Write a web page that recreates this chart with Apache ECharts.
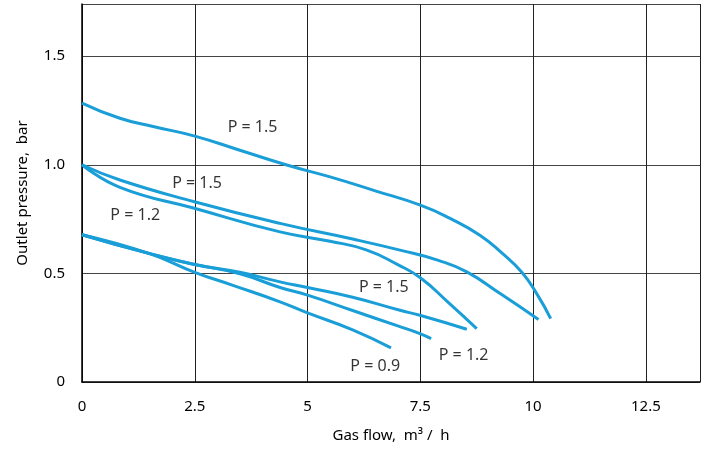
<!DOCTYPE html>
<html>
<head>
<meta charset="utf-8">
<script src="https://cdn.jsdelivr.net/npm/echarts@6/dist/echarts.min.js"></script>
<style>
  html, body { margin: 0; padding: 0; background: #fff; }
  #chart { width: 707px; height: 454px; }
</style>
</head>
<body>
<div id="chart"></div>
<script>
// curves: [gas flow m3/h, outlet pressure bar]
const curveA = [[0, 1.284], [0.84, 1.214], [1.6, 1.175], [2.5, 1.132], [3.5, 1.067], [4.54, 0.999],
  [5.5, 0.944], [6.5, 0.88], [7.5, 0.814], [8.16, 0.753], [8.82, 0.676], [9.3, 0.595],
  [9.75, 0.505], [10.1, 0.40], [10.39, 0.292]]
const curveB = [[0, 1.0], [0.84, 0.93], [2.49, 0.83], [4.39, 0.73], [6.0, 0.658], [7.05, 0.607],
  [7.9, 0.56], [8.53, 0.507], [9.27, 0.407], [10.12, 0.288]]
const curveC = [[0, 1.0], [0.84, 0.896], [2.49, 0.80], [4.39, 0.691], [5.5, 0.648], [6.3, 0.608],
  [7.0, 0.54], [7.5, 0.48], [8.1, 0.37], [8.75, 0.246]]
const curveD = [[0, 0.678], [1.48, 0.592], [2.5, 0.541], [3.5, 0.505], [4.39, 0.461], [5.0, 0.435], [6.0, 0.39],
  [7.05, 0.33], [7.49, 0.307], [8.53, 0.243]]
const curveE = [[0, 0.678], [1.48, 0.592], [2.5, 0.541], [3.5, 0.498], [4.39, 0.435], [5.0, 0.40], [6.0, 0.329],
  [7.0, 0.258], [7.49, 0.223], [7.74, 0.20]]
const curveF = [[0, 0.678], [1.48, 0.592], [2.5, 0.505], [3.33, 0.446], [4.39, 0.369], [5.0, 0.318],
  [6.0, 0.24], [6.85, 0.157]]

// curve labels
const labelText = ['P = 1.5', 'P = 1.5', 'P = 1.2', 'P = 1.5', 'P = 1.2', 'P = 0.9']
const labelX = [3.78, 2.55, 1.18, 6.69, 8.46, 6.50]
const labelY = [1.174, 0.916, 0.766, 0.433, 0.123, 0.073]

const xTicks = [0, 2.5, 5, 7.5, 10, 12.5]
const yTicks = [0, 0.5, 1.0, 1.5]

const blue = '#1a9ed8'
const font = 'Noto Sans'

let myChart = echarts.init(document.getElementById('chart'))

function curve(data) {
  return {
    type: 'line',
    data: data,
    smooth: 0.5,
    symbol: 'none',
    lineStyle: { color: blue, width: 3 },
    z: 3
  }
}

let options = {
  animation: false,
  grid: { left: 82, right: 7, top: 4, bottom: 72 },
  xAxis: {
    type: 'value',
    min: 0,
    max: 13.7,
    interval: 2.5,
    name: 'Gas flow,  m³ /  h',
    nameLocation: 'middle',
    nameGap: 46,
    nameTextStyle: { color: '#000', fontSize: 15, fontFamily: font },
    axisLine: { show: true, lineStyle: { color: '#000', width: 1.5 } },
    axisTick: { show: false },
    axisLabel: {
      color: '#000', fontSize: 15, fontFamily: font, margin: 17,
      showMaxLabel: false,
      formatter: v => xTicks.includes(v) ? String(v) : ''
    },
    splitLine: { show: true, lineStyle: { color: '#222', width: 1 } }
  },
  yAxis: {
    type: 'value',
    min: 0,
    max: 1.74,
    interval: 0.5,
    name: 'Outlet pressure,  bar',
    nameLocation: 'middle',
    nameGap: 52,
    nameTextStyle: { color: '#000', fontSize: 15, fontFamily: font },
    axisLine: { show: true, lineStyle: { color: '#000', width: 1.5 } },
    axisTick: { show: false },
    axisLabel: {
      color: '#000', fontSize: 15, fontFamily: font, margin: 17,
      showMaxLabel: false,
      formatter: v => yTicks.includes(v) ? (v === 0 ? '0' : v.toFixed(1)) : ''
    },
    splitLine: { show: true, lineStyle: { color: '#444', width: 1 } }
  },
  series: [
    curve(curveA), curve(curveB), curve(curveC), curve(curveD), curve(curveE), curve(curveF),
    {
      type: 'scatter',
      symbolSize: 0,
      data: labelText.map((t, i) => ({ name: t, value: [labelX[i], labelY[i]] })),
      label: {
        show: true,
        position: 'inside',
        formatter: p => p.name,
        color: '#000',
        fontSize: 16,
        fontFamily: font
      },
      z: 4
    }
  ]
}
myChart.setOption(options)
</script>
</body>
</html>
